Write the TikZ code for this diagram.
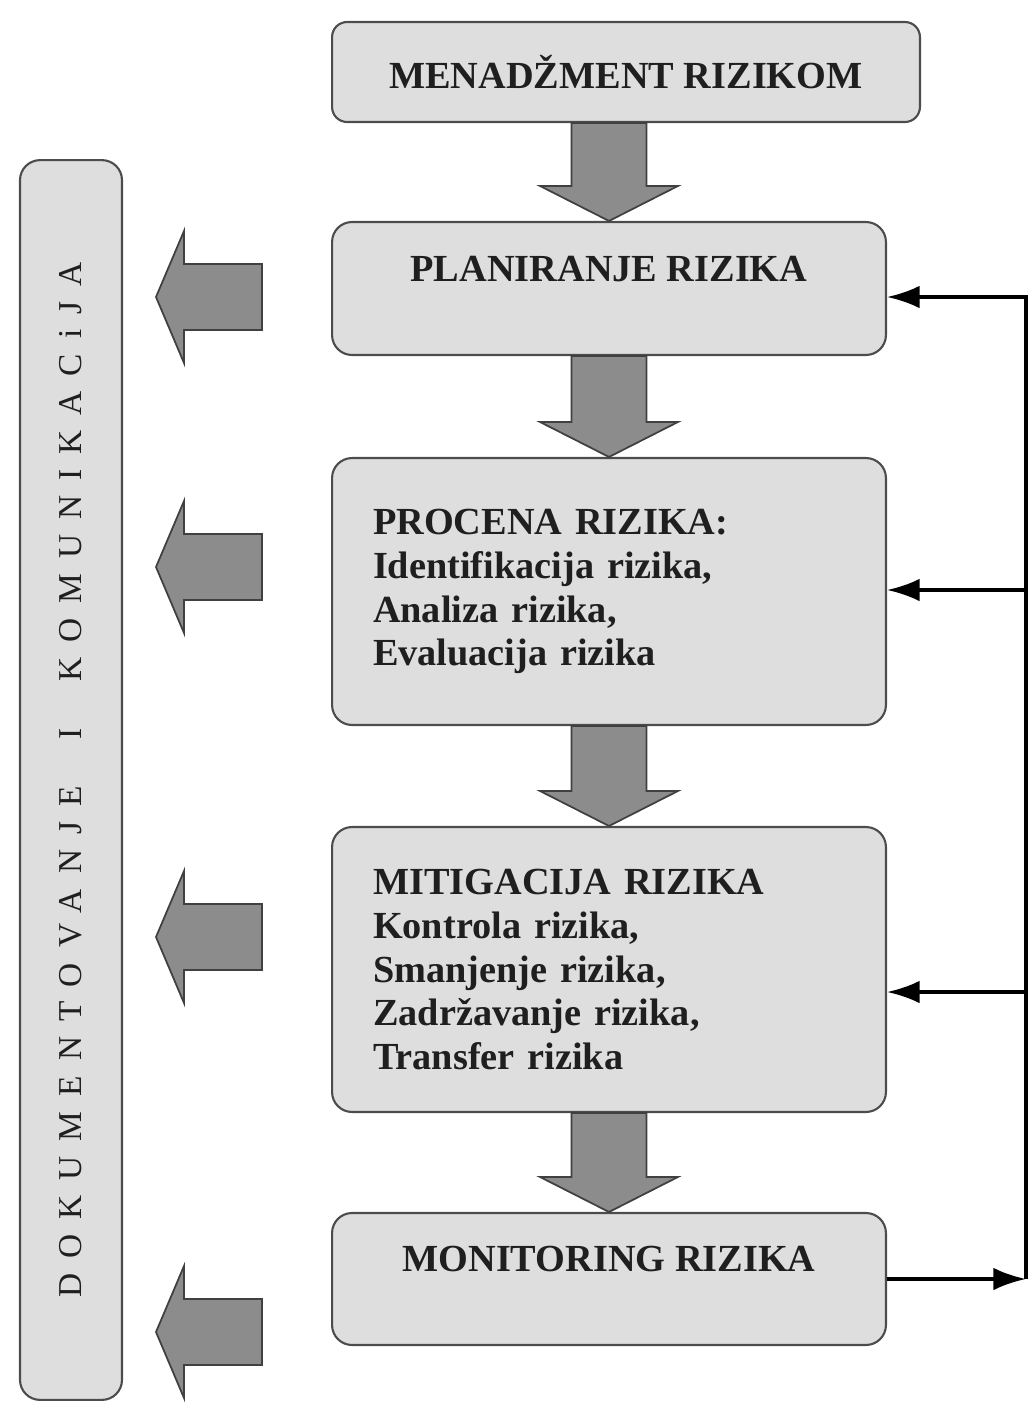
\documentclass[tikz,border=0pt]{standalone}
\usepackage{fontspec}
\setmainfont{Liberation Serif}
\usetikzlibrary{arrows.meta,positioning}

\begin{document}
\begin{tikzpicture}[x=0.02cm, y=-0.02cm,
  korak/.style={draw=black!70, line width=1.2pt, fill=black!13, rounded corners=0.4cm,
    font=\fontsize{21.8}{25}\selectfont\bfseries, text=black!88},
  lista/.style={korak, align=left, text width=9.44cm, inner xsep=0.82cm},
  blok/.style={draw=black!75, line width=1pt, fill=black!45, line join=miter},
  povrat/.style={line width=2pt, -{Latex[length=0.65cm,width=0.45cm]}}]
  \useasboundingbox (0,0) rectangle (1034,1404);
  % Koraci procesa
  \node[korak, rounded corners=0.3cm, minimum width=11.76cm, minimum height=2cm]
    (menadzment) at (626,72) {MENADŽMENT RIZIKOM};
  \node[korak, minimum width=11.08cm, minimum height=2.66cm, text depth=0.8cm]
    (planiranje) at (609,288.5) {PLANIRANJE RIZIKA};
  \node[lista, minimum width=11.08cm, minimum height=5.34cm]
    (procena) at (609,591.5) {PROCENA RIZIKA:\\ Identifikacija rizika,\\ Analiza rizika,\\ Evaluacija rizika};
  \node[lista, minimum width=11.08cm, minimum height=5.7cm]
    (mitigacija) at (609,969.5) {MITIGACIJA RIZIKA\\ Kontrola rizika,\\ Smanjenje rizika,\\ Zadržavanje rizika,\\ Transfer rizika};
  \node[korak, minimum width=11.08cm, minimum height=2.64cm, text depth=0.8cm]
    (monitoring) at (609,1279) {MONITORING RIZIKA};
  % Dokumentovanje (uspravno)
  \node[korak, font=\fontsize{19}{19}\selectfont\addfontfeature{LetterSpace=45},
    minimum width=24.8cm, minimum height=2.04cm, rotate=90]
    (dokumentovanje) at (71,780) {DOKUMENTOVANJE \ I \ KOMUNIKACiJA};
  % Strelice nadole
  \foreach \a/\b in {menadzment/planiranje, planiranje/procena, procena/mitigacija, mitigacija/monitoring}
    \draw[blok] ([xshift=-0.75cm]\b.north |- \a.south) -- ([xshift=-0.75cm,yshift=0.7cm]\b.north)
      -- ([xshift=-1.38cm,yshift=0.7cm]\b.north) -- (\b.north)
      -- ([xshift=1.38cm,yshift=0.7cm]\b.north) -- ([xshift=0.75cm,yshift=0.7cm]\b.north)
      -- ([xshift=0.75cm]\b.north |- \a.south) -- cycle;
  % Strelice ulevo
  \foreach \y in {297,567,937,1332}
    \draw[blok] (262,{\y-33}) -- (184,{\y-33}) -- (184,{\y-66}) -- (156,\y)
      -- (184,{\y+66}) -- (184,{\y+33}) -- (262,{\y+33}) -- cycle;
  % Povratna veza
  \coordinate (kraj) at ([xshift=2.78cm]monitoring.east);
  \coordinate (vrh) at (kraj |- 0,297);
  \draw[povrat] (monitoring.east) -- (kraj);
  \draw[povrat] (kraj) -- (vrh) -- (planiranje.east |- vrh);
  \draw[povrat] (kraj |- 0,590) -- (procena.east |- 0,590);
  \draw[povrat] (kraj |- 0,992) -- (mitigacija.east |- 0,992);
\end{tikzpicture}
\end{document}
